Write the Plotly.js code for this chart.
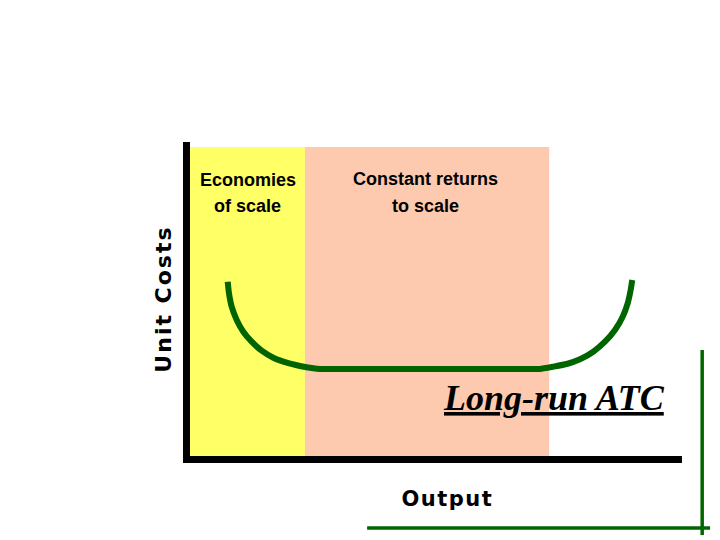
<!DOCTYPE html>
<html>
<head>
<meta charset="utf-8">
<script src="https://cdn.plot.ly/plotly-3.0.1.min.js"></script>
<style>
  html, body { margin: 0; padding: 0; background: #ffffff; }
  #chart { width: 720px; height: 540px; }
</style>
</head>
<body>
<div id="chart"></div>
<script>
// ---- data ----
// Long-run ATC curve (output, unit cost)
var atcOutput = [8.35, 8.61, 9.16, 10.17, 11.51, 13.21, 15.24, 17.59, 20.30, 23.0, 25.69, 27.05,
                 29.5, 33.0, 40.0, 50.0, 60.0, 66.0, 69.2,
                 71.63, 74.33, 77.04, 79.74, 82.43, 84.80, 86.83, 88.39, 89.40, 90.01, 90.33];
var atcCost   = [56.0, 52.35, 48.13, 43.94, 40.25, 37.10, 34.27, 32.06, 30.49, 29.45, 28.72, 28.5,
                 28.5, 28.5, 28.5, 28.5, 28.5, 28.5, 28.5,
                 28.5, 29.23, 30.08, 31.56, 33.95, 37.10, 40.79, 44.98, 49.20, 53.39, 56.54];

// Regions along the output axis
var regionNames  = ["Economies of scale", "Constant returns to scale"];
var regionLines  = [["Economies", "of scale"], ["Constant returns", "to scale"]];
var regionStart  = [0, 24.0];
var regionEnd    = [24.0, 73.5];
var regionTop    = 98.4;

// Axis extents
var axisXMax = 100.4;
var axisYMax = 100;

// Labels
var yLabel = "Unit Costs";
var xLabel = "Output";
var curveLabel = "Long-run ATC";

// Decorative slide frame lines (green)
var frameVX = [104.5, 104.5];
var frameVY = [34.5, -23.8];
var frameHX = [36.6, 106.1];
var frameHY = [-21.6, -21.6];

// ---- build ----
var regionColors = ["#FFFF66", "#FDCAB0"];
var shapes = [];
for (var i = 0; i < regionNames.length; i++) {
  shapes.push({type: "rect", xref: "x", yref: "y", x0: regionStart[i], x1: regionEnd[i], y0: 0, y1: regionTop,
               fillcolor: regionColors[i], line: {width: 0}, layer: "below"});
}
// axes
shapes.push({type: "line", xref: "x", yref: "y", x0: 0, x1: 0, y0: -1.1, y1: axisYMax, line: {color: "#000000", width: 7}});
shapes.push({type: "line", xref: "x", yref: "y", x0: 0, x1: axisXMax, y0: 0, y1: 0, line: {color: "#000000", width: 7}});
// frame
shapes.push({type: "line", xref: "x", yref: "y", x0: frameVX[0], x1: frameVX[1], y0: frameVY[0], y1: frameVY[1], line: {color: "#006600", width: 3.5}});
shapes.push({type: "line", xref: "x", yref: "y", x0: frameHX[0], x1: frameHX[1], y0: frameHY[0], y1: frameHY[1], line: {color: "#006600", width: 3.5}});

var sansFont = "'Liberation Sans', Arial, sans-serif";
var regionLabelX = [12.46, 48.5];
var regionLabelY = [[88.0, 79.8], [88.35, 79.8]];

var annotations = [];
for (var r = 0; r < regionLines.length; r++) {
  for (var k = 0; k < regionLines[r].length; k++) {
    annotations.push({x: regionLabelX[r], y: regionLabelY[r][k], xref: "x", yref: "y", text: regionLines[r][k],
      showarrow: false, font: {family: sansFont, size: 18, color: "#000000", weight: "bold"}, align: "center"});
  }
}
annotations.push(
  {x: -4.6, y: 50.6, xref: "x", yref: "y", text: yLabel, showarrow: false, textangle: -90,
   font: {family: "'DejaVu Sans', sans-serif", size: 22, color: "#000000", weight: "bold"}},
  {x: 52.8, y: -12.4, xref: "x", yref: "y", text: xLabel, showarrow: false,
   font: {family: "'DejaVu Sans', sans-serif", size: 21, color: "#000000", weight: "bold"}},
  {x: 74.5, y: 19.4, xref: "x", yref: "y", text: "<u>" + curveLabel + "</u>", showarrow: false,
   font: {family: "'Liberation Serif', 'Times New Roman', serif", size: 36, color: "#000000", weight: "bold", style: "italic"}}
);

var traces = [{
  type: "scatter", mode: "lines", x: atcOutput, y: atcCost,
  line: {color: "#006400", width: 6, shape: "spline", smoothing: 0.4},
  hoverinfo: "skip", showlegend: false
}];

var layout = {
  width: 720, height: 540,
  margin: {l: 0, r: 0, t: 0, b: 0},
  paper_bgcolor: "#ffffff", plot_bgcolor: "#ffffff",
  xaxis: {range: [-37.79, 108.11], visible: false, fixedrange: true},
  yaxis: {range: [-25.35, 144.72], visible: false, fixedrange: true},
  shapes: shapes,
  annotations: annotations,
  showlegend: false
};

Plotly.newPlot("chart", traces, layout, {staticPlot: true, displayModeBar: false}).then(function (gd) {
  var spacing = {};
  spacing[yLabel] = "2px";
  spacing[xLabel] = "1.5px";
  gd.querySelectorAll(".annotation-text").forEach(function (t) {
    var s = spacing[t.textContent];
    if (s) t.style.letterSpacing = s;
  });
});
</script>
</body>
</html>
